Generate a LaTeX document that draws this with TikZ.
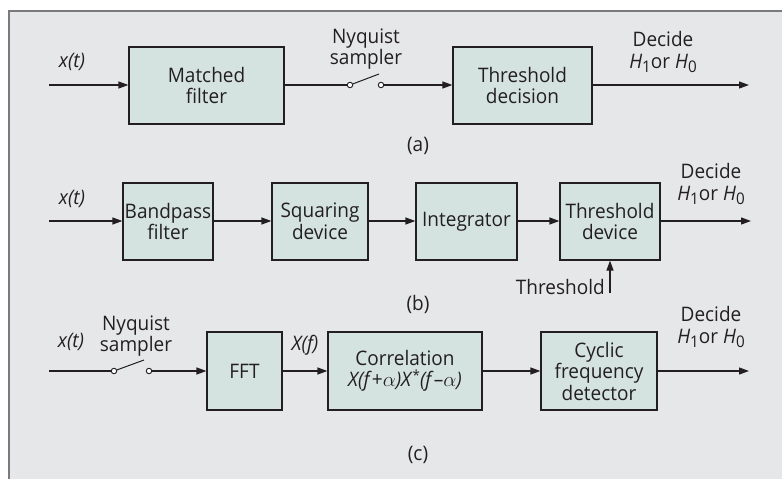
\documentclass[tikz,border=0pt]{standalone}
\usepackage{fontspec}
\setmainfont{Open Sans}[FakeStretch=0.95]
\usetikzlibrary{arrows.meta}
\definecolor{bggray}{HTML}{E6E7E9}
\definecolor{framegray}{HTML}{7A7A7C}
\definecolor{boxfill}{HTML}{D5E3E0}
\definecolor{ink}{HTML}{231F20}
\newcommand{\Hs}[1]{\textit{H}\raisebox{-0.35ex}{\fontsize{16}{16}\selectfont #1}}
\newcommand{\decidelbl}{Decide\\\Hs{1}or \Hs{0}}
\tikzset{
  blk/.style={draw=ink, fill=boxfill, line width=1.2pt, minimum height=77pt, inner sep=0pt, align=center, font=\fontsize{20}{21.5}\selectfont, text=ink},
  lbl/.style={align=center, font=\fontsize{20}{21.5}\selectfont, text=ink, inner sep=0pt},
  conn/.style={draw=ink, line width=1.2pt, -{Triangle[length=10pt,width=7pt]}},
  wire/.style={draw=ink, line width=1.2pt},
  sw/.style={circle, draw=ink, fill=white, line width=0.9pt, minimum size=5.5pt, inner sep=0pt}
}
\begin{document}
\begin{tikzpicture}[x=1pt,y=-1pt]
\useasboundingbox (0,0) rectangle (782,479);
\clip (0,0) rectangle (782,479);
\fill[white] (0,0) rectangle (782,479);
\draw[framegray, line width=2.5pt, fill=bggray] (9,11) rectangle (800,500);

% ---------- (a) ----------
\coordinate (ainA) at (49,85);
\node[blk, minimum width=155pt] (mf) at (206.5,85.5) {Matched\\filter};
\node[sw] (as1) at (350,85) {};
\node[sw] (as2) at (381,85) {};
\coordinate (ablade) at (379,74);
\node[blk, minimum width=139pt] (td) at (522.5,85.5) {Threshold\\decision};
\coordinate (aout) at (749,85);
\draw[conn] (ainA) -- (mf.west |- ainA);
\draw[wire] (mf.east |- ainA) -- (as1);
\draw[wire, line width=1pt] (as1) -- (ablade);
\draw[conn] (as2) -- (td.west |- as2);
\draw[conn] (td.east |- aout) -- (aout);
\node[lbl] (axt) at (72,62) {\textit{x(t)}};
\node[lbl] (anyq) at (366,49) {Nyquist\\sampler};
\node[lbl] (adec) at (663,52) {\decidelbl};
\node[lbl] (alab) at (418,146) {(a)};

% ---------- (b) ----------
\coordinate (binA) at (49,221);
\node[blk, minimum width=90pt] (bp) at (168,221.5) {Bandpass\\filter};
\node[blk, minimum width=96pt] (sq) at (320,221.5) {Squaring\\device};
\node[blk, minimum width=101pt] (integ) at (466.5,221.5) {Integrator};
\node[blk, minimum width=100pt] (thd) at (610,221.5) {Threshold\\device};
\coordinate (bout) at (751,221);
\coordinate (bthr) at (610,293);
\draw[conn] (binA) -- (bp.west |- binA);
\draw[conn] (bp.east |- binA) -- (sq.west |- binA);
\draw[conn] (sq.east |- binA) -- (integ.west |- binA);
\draw[conn] (integ.east |- binA) -- (thd.west |- binA);
\draw[conn] (thd.east |- bout) -- (bout);
\draw[conn] (bthr) -- (thd.south);
\node[lbl] (bxt) at (72,199) {\textit{x(t)}};
\node[lbl, anchor=east] (bthrl) at (605,287) {Threshold};
\node[lbl] (bdec) at (711,184) {\decidelbl};
\node[lbl] (blab) at (418,304) {(b)};

% ---------- (c) ----------
\coordinate (cinA) at (49,371);
\node[sw] (cs1) at (114,371) {};
\node[sw] (cs2) at (149,371) {};
\coordinate (cblade) at (144,360);
\node[blk, minimum width=75pt, minimum height=78pt] (fft) at (244.5,371) {FFT};
\node[blk, minimum width=154pt, minimum height=78pt] (corr) at (405,371) {Correlation\\\textit{X(f}+$\alpha$\textit{)X}\raisebox{0.6ex}{\fontsize{14}{14}\selectfont*}\textit{(f}--$\alpha$\textit{)}};
\node[blk, minimum width=116pt, minimum height=78pt] (cyc) at (599,371) {Cyclic\\frequency\\detector};
\coordinate (cout) at (749,371);
\draw[wire] (cinA) -- (cs1);
\draw[wire, line width=1pt] (cs1) -- (cblade);
\draw[conn] (cs2) -- (fft.west |- cs2);
\draw[conn] (fft.east |- cinA) -- (corr.west |- cinA);
\draw[conn] (corr.east |- cinA) -- (cyc.west |- cinA);
\draw[conn] (cyc.east |- cout) -- (cout);
\node[lbl] (cxt) at (71,342) {\textit{x(t)}};
\node[lbl] (cnyq) at (136,336) {Nyquist\\sampler};
\node[lbl] (cxf) at (305,345) {\textit{X(f)}};
\node[lbl] (cdec) at (711,327) {\decidelbl};
\node[lbl] (clab) at (418,455) {(c)};
\end{tikzpicture}
\end{document}
